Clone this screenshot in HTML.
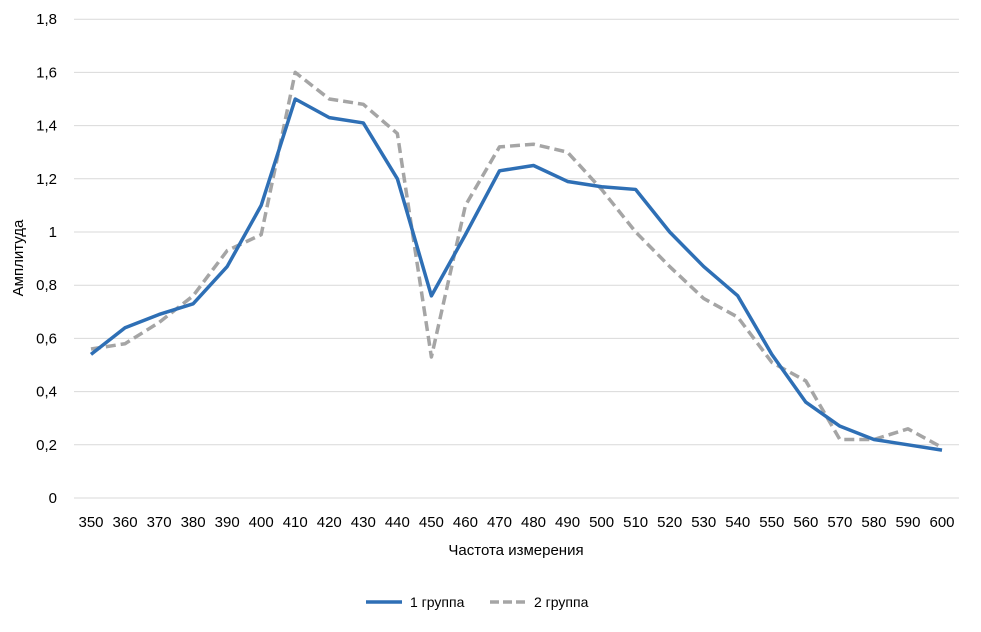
<!DOCTYPE html>
<html><head><meta charset="utf-8"><style>
body{margin:0;background:#fff;width:981px;height:627px;overflow:hidden;font-family:"Liberation Sans",sans-serif}
svg text{font-family:"Liberation Sans","Noto Sans CJK SC",sans-serif;fill:#000}
</style></head><body>
<svg id="chart" width="981" height="627" xmlns="http://www.w3.org/2000/svg">
<g id="grid"></g>
<g id="yt"></g>
<g id="xt"></g>
<g id="series"></g>
<text transform="translate(23,258) rotate(-90)" text-anchor="middle" font-size="15">Амплитуда</text>
<text x="516" y="555" text-anchor="middle" font-size="15">Частота измерения</text>
<g>
<g><line x1="366" y1="602" x2="402" y2="602" stroke="#2e6fb5" stroke-width="3.5"/><text x="410" y="607" font-size="14">1 группа</text></g>
<g><line x1="490" y1="602" x2="527" y2="602" stroke="#a5a5a5" stroke-width="3.5" stroke-dasharray="9,4"/><text x="534" y="607" font-size="14">2 группа</text></g>
</g>
</svg>
<script>
const categories=[350,360,370,380,390,400,410,420,430,440,450,460,470,480,490,500,510,520,530,540,550,560,570,580,590,600];
const series1=[0.54,0.64,0.69,0.73,0.87,1.10,1.50,1.43,1.41,1.20,0.76,0.99,1.23,1.25,1.19,1.17,1.16,1.00,0.87,0.76,0.54,0.36,0.27,0.22,0.20,0.18];
const series2=[0.56,0.58,0.66,0.76,0.93,0.99,1.60,1.50,1.48,1.37,0.53,1.10,1.32,1.33,1.30,1.16,1.00,0.87,0.75,0.68,0.51,0.44,0.22,0.22,0.26,0.19];
const yTicks=[0,0.2,0.4,0.6,0.8,1,1.2,1.4,1.6,1.8];
const NS="http://www.w3.org/2000/svg";
const y=v=>498-v*266;
const x=i=>91+i*(942-91)/(categories.length-1);
const grid=document.getElementById('grid'),yt=document.getElementById('yt'),xt=document.getElementById('xt'),sg=document.getElementById('series');
yTicks.forEach(t=>{
 const l=document.createElementNS(NS,'line');
 
 
 l.setAttribute('x1',74);l.setAttribute('x2',959);l.setAttribute('y1',y(t));l.setAttribute('y2',y(t));
 l.setAttribute('stroke','#d9d9d9');l.setAttribute('stroke-width',1);grid.appendChild(l);
 const tx=document.createElementNS(NS,'text');
 
 
 tx.setAttribute('x',57);tx.setAttribute('y',y(t)+5);tx.setAttribute('text-anchor','end');tx.setAttribute('font-size','15');
 tx.textContent=String(t).replace('.',',');yt.appendChild(tx);
});
categories.forEach((c,i)=>{
 const tx=document.createElementNS(NS,'text');
 
 
 tx.setAttribute('x',x(i));tx.setAttribute('y',527);tx.setAttribute('text-anchor','middle');tx.setAttribute('font-size','15');
 tx.textContent=c;xt.appendChild(tx);
});
function line(data,color,dash,name){
 const p=document.createElementNS(NS,'polyline');
 
 
 p.setAttribute('points',data.map((v,i)=>x(i)+','+y(v)).join(' '));
 p.setAttribute('fill','none');p.setAttribute('stroke',color);p.setAttribute('stroke-width','3.5');
 p.setAttribute('stroke-linejoin','round');
 if(dash)p.setAttribute('stroke-dasharray',dash);
 sg.appendChild(p);
}
line(series2,'#a5a5a5','10,5','series-2-line');
line(series1,'#2e6fb5',null,'series-1-line');
</script>
</body></html>
